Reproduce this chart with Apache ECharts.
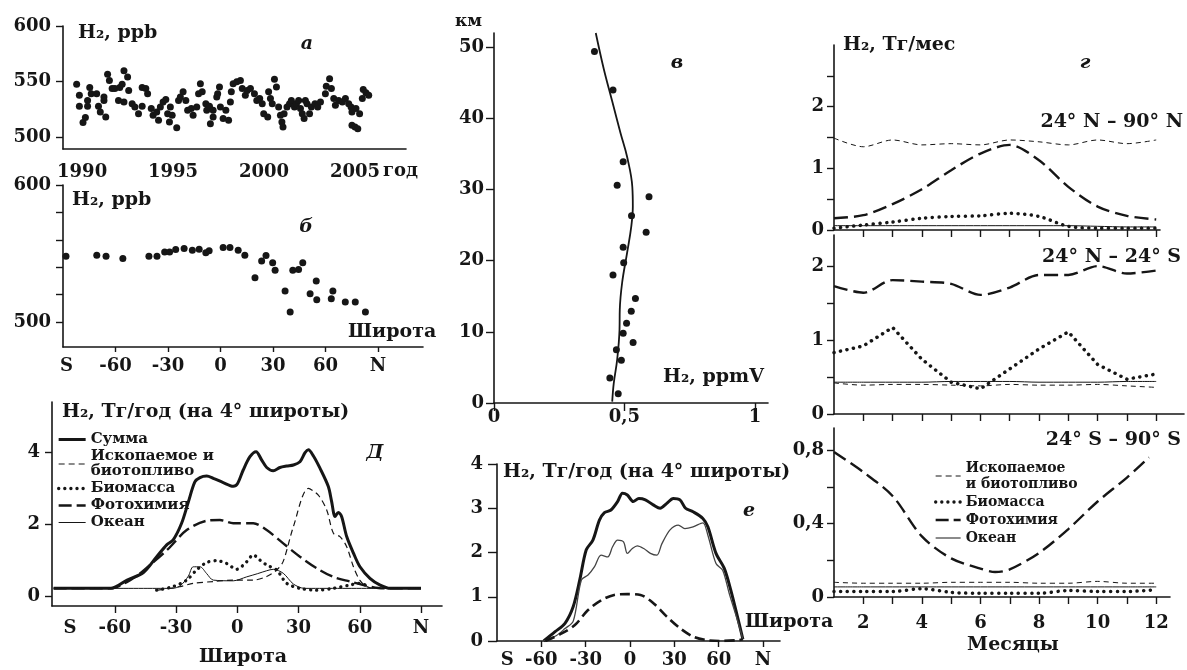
<!DOCTYPE html>
<html>
<head>
<meta charset="utf-8">
<script src="https://cdn.jsdelivr.net/npm/echarts@6.0.0/dist/echarts.min.js"></script>
<style>
  html, body { margin: 0; background: #fff; }
  #chart { width: 1187px; height: 670px; }
</style>
</head>
<body>
<div id="chart"></div>
<script>
// а: H2 (ppb) по годам
const yearsA = [1989.7,1989.85,1989.85,1990.05,1990.18,1990.3,1990.42,1990.5,1990.3,1990.8,
  1990.9,1991.0,1991.2,1991.2,1991.3,1991.4,1991.5,1991.65,1991.8,1992.0,
  1992.07,1992.2,1992.3,1992.5,1992.56,1992.3,1992.75,1992.9,1993.1,1993.3,
  1993.5,1993.6,1993.3,1993.8,1993.9,1994.1,1994.2,1994.3,1994.45,1994.6,
  1994.7,1994.85,1994.8,1994.95,1995.2,1995.3,1995.4,1995.55,1995.7,1995.8,
  1996.0,1996.1,1996.3,1996.4,1996.5,1996.6,1996.8,1996.85,1997.0,1997.05,
  1997.2,1997.2,1997.4,1997.45,1997.55,1997.6,1997.75,1997.9,1998.05,1998.15,
  1998.2,1998.3,1998.5,1998.7,1998.8,1998.97,1999.07,1999.25,1999.47,1999.6,
  1999.76,1999.9,1999.98,2000.2,2000.25,2000.35,2000.45,2000.57,2000.68,2000.8,
  2000.9,2000.98,2001.04,2001.1,2001.26,2001.4,2001.5,2001.67,2001.78,2001.9,
  2002.0,2002.1,2002.2,2002.27,2002.36,2002.5,2002.6,2002.8,2002.95,2003.1,
  2003.37,2003.42,2003.6,2003.7,2003.83,2003.92,2004.1,2004.3,2004.47,2004.65,
  2004.78,2004.83,2004.83,2005.0,2005.15,2005.05,2005.25,2005.4,2005.45,2005.6,
  2005.75];
const h2A = [547.6,537.6,527.7,513,517.5,533,544.6,539,527.7,539,
  527.7,522.6,536,533,518,556.6,551,543.7,543.7,533,
  544.6,547.6,559.6,554,542,531.6,530,527,521,544.6,
  543.7,539,527.7,525.6,519.6,522.6,515,527,531.6,533.7,
  521,527,513.5,519.6,508.4,533,536,540.7,533,524,
  525.6,519.6,527,539,548,540.7,530,524,527.7,512,
  524,518,536,539,545,527,516.6,524,515,531.6,
  540.7,548,549.7,551,543.7,537.6,542,543.7,539,533,
  534.6,530,521,518,540.7,534.6,530,552,545,527,
  519.6,513.5,509,521,527,530,533,527,530,533,
  525.6,521,516.6,533,530,521,527,530,527,531.6,
  539,545.8,552.4,543.7,534.6,528.6,533,531.6,534.6,530,
  527,522.6,510.5,509,507.5,525.6,521,534.6,542.8,539.8,
  537.6];

// б: H2 (ppb) по широте
const latB = [-88.3,-70.7,-65.4,-55.8,-40.9,-36.3,-31.9,-29.1,-25.6,-20.8,-16.1,-12.2,-8.4,-6.5,
  1.5,5.4,10.1,13.9,19.7,23.5,26,29.8,31.2,36.9,39.8,41.3,44.6,47,51.2,54.7,55,63.3,64.2,71.3,77,82.8];
const h2B = [548,548.8,548,546.3,548,548,551.2,551.2,552.9,553.7,552.4,553.2,550.5,552,
  554.4,554.4,552.4,548.8,532.4,544.6,548.5,543.2,537.8,522.7,507.3,537.8,538.3,543.2,520.7,530,516.3,517,522.7,514.6,514.6,507.3];

// в: вертикальный профиль, ppmV и км
const ppmvPts = [0.385,0.456,0.495,0.472,0.594,0.527,0.583,0.495,0.497,0.456,0.542,0.526,0.508,0.495,0.533,0.469,0.488,0.444,0.476];
const kmPts = [49.4,44.0,33.9,30.6,29.0,26.3,24.0,21.9,19.7,18.0,14.7,12.9,11.2,9.8,8.5,7.5,6.0,3.5,1.3];
const ppmvFit = [0.39,0.42,0.453,0.485,0.51,0.53,0.532,0.526,0.51,0.491,0.482,0.481,0.472,0.459,0.453];
const kmFit = [52,47.05,42.4,37.9,34.6,30.4,27.6,24.8,21.1,16.9,13.1,10.3,6.1,2.8,0.2];

// д: источники, Тг/год на 4° широты
const latSum = [-90,-62,-54,-46,-39.5,-34.6,-31.4,-27.3,-24,-20.8,-18.3,-15,-11.8,-6.9,-2,0,2.9,6.2,9.2,11.9,
  14.4,17.6,20.9,24.2,27.5,30.7,33.2,34.8,37.3,40.5,44.6,46.2,47.9,49.5,51.1,53.6,56.9,60.1,65,70,75,90];
const sumD = [0.21,0.21,0.44,0.65,1.09,1.42,1.56,2.02,2.61,3.17,3.29,3.33,3.27,3.15,3.05,3.11,3.5,3.87,4.01,3.78,
  3.57,3.48,3.57,3.61,3.64,3.73,3.98,4.06,3.89,3.55,3.04,2.63,2.21,2.32,2.21,1.65,1.19,0.81,0.49,0.3,0.21,0.21];
const latFos = [-39,-28,-21.6,-11.8,-2,7.8,14.4,19.3,22.5,27.5,34.8,39.7,43.8,47.1,50.3,53.6,56.9,60,63.4,68,90];
const fosD = [0.16,0.26,0.35,0.4,0.44,0.44,0.54,0.72,0.96,1.93,2.99,2.8,2.39,1.74,1.65,1.37,0.81,0.44,0.26,0.21,0.21];
const latBio = [-39.5,-31.4,-24.8,-20,-15,-10,-5.2,-0.3,4.6,7.8,11,14.4,19.3,24.2,30.7,38.9,47,55,60,63];
const bioD = [0.16,0.26,0.44,0.72,0.93,0.98,0.9,0.74,0.95,1.14,1.0,0.86,0.72,0.35,0.21,0.16,0.21,0.3,0.35,0.3];
const latPho = [-90,-62.4,-51,-42.8,-34,-24.8,-15,-8.5,-2,7.8,14.4,22.5,30.7,38.9,47,55.2,63.4,71.6,90];
const phoD = [0.21,0.21,0.49,0.86,1.3,1.83,2.09,2.11,2.02,2.02,1.83,1.46,1.09,0.77,0.53,0.4,0.28,0.21,0.21];
const latOce = [-90,-32,-28,-24,-21.6,-18.3,-15,-11.8,-2,4.6,10,14.4,17.6,22.5,27.5,33,90];
const oceD = [0.21,0.21,0.28,0.55,0.81,0.81,0.62,0.44,0.42,0.53,0.62,0.7,0.74,0.63,0.33,0.21,0.21];

// е: Тг/год на 4° широты
const latE1 = [-58.4,-50.7,-44,-38.4,-34,-29.6,-25.1,-20.7,-17.3,-12.9,-8.4,-5.1,-1.8,2.2,6,10.4,16,20.4,24.9,29.3,
  33.8,37.6,42.7,49.3,52.7,58.2,63.8,68.2,72.7,76.4];
const thickE = [0,0.21,0.4,0.78,1.38,2.06,2.28,2.73,2.9,2.96,3.15,3.34,3.3,3.15,3.22,3.19,3.07,3.0,3.11,3.22,
  3.19,3.0,2.92,2.77,2.58,1.98,1.64,1.15,0.55,0.04];
const latE2 = [-58.4,-50,-44,-38.4,-32.9,-28.4,-24,-19.6,-15,-11.8,-8.4,-4.4,-1.8,1.6,4.9,9.3,13.8,18.2,21.6,27.1,
  32.7,37.1,42.7,49.3,52.7,58.2,62.7,67.1,72.7,76.4];
const thinE = [0,0.12,0.28,0.45,1.38,1.49,1.68,1.94,1.9,2.13,2.28,2.24,1.98,2.09,2.15,2.09,1.98,1.94,2.2,2.51,
  2.62,2.54,2.58,2.67,2.39,1.75,1.6,1.08,0.47,0.04];
const latE3 = [-57.3,-46.2,-37.3,-28.4,-19.6,-10.7,-1.8,7.1,16,24.9,33.8,42.7,51.6,60.4,73.8,76.4];
const dashE = [0,0.17,0.36,0.7,0.92,1.04,1.06,1.04,0.85,0.55,0.29,0.1,0.02,0,0.02,0.04];

// г: Тг/мес по месяцам
const months = [1,2,3,4,5,6,7,8,9,10,11,12];
const fosN = [1.49,1.35,1.46,1.38,1.40,1.38,1.46,1.43,1.38,1.46,1.40,1.46];
const bioN = [0.03,0.08,0.13,0.19,0.22,0.23,0.27,0.22,0.06,0.03,0.03,0.03];
const phoN = [0.19,0.24,0.42,0.66,0.97,1.24,1.38,1.13,0.70,0.38,0.23,0.17];
const oceN = [0.07,0.07,0.07,0.07,0.07,0.07,0.07,0.07,0.07,0.06,0.05,0.05];
const fosT = [0.42,0.39,0.40,0.40,0.39,0.38,0.40,0.39,0.39,0.40,0.38,0.36];
const bioT = [0.83,0.92,1.17,0.74,0.43,0.34,0.61,0.88,1.11,0.67,0.47,0.54];
const phoT = [1.73,1.64,1.81,1.79,1.76,1.61,1.71,1.88,1.88,2.0,1.9,1.94];
const oceT = [0.43,0.43,0.43,0.43,0.44,0.44,0.44,0.43,0.43,0.43,0.44,0.44];
const fosS = [0.08,0.075,0.075,0.075,0.08,0.08,0.08,0.075,0.075,0.085,0.075,0.075];
const bioS = [0.03,0.03,0.03,0.045,0.025,0.02,0.02,0.02,0.035,0.03,0.03,0.04];
const monthsPhoS = [1,2,3,4,5,6,6.5,7,8,9,10,11,11.75];
const phoS = [0.79,0.68,0.55,0.33,0.21,0.155,0.136,0.15,0.24,0.37,0.52,0.65,0.76];
const oceS = [0.055,0.055,0.055,0.055,0.055,0.055,0.055,0.055,0.055,0.055,0.055,0.055];

const FONT = '"DejaVu Serif", "Liberation Serif", serif';
const INK = '#161616';
const FOSSIL = 'Ископаемое и биотопливо';

function pairs(xs, ys) { return xs.map((x, i) => [x, ys[i]]); }
function fmtNum(v) { return String(v).replace('.', ','); }
function fmtLat(v) { return v < -75 ? 'S' : v >= 90 ? 'N' : String(v); }

function axis(grid, min, max, o) {
  o = o || {};
  return {
    type: 'value', gridIndex: grid, min: min, max: max,
    axisLine: { show: true, onZero: false, lineStyle: { color: INK, width: 1.6 } },
    axisTick: { show: !!o.ticks, customValues: o.ticks, length: o.tickLen || 7, lineStyle: { color: INK, width: 1.4 } },
    axisLabel: { show: !!o.labels, customValues: o.labels, margin: o.margin || 8, formatter: o.fmt || fmtNum,
      color: INK, fontFamily: FONT, fontWeight: 'bold', fontSize: 18 },
    splitLine: { show: false }
  };
}

function curve(name, gi, xs, ys, ls, smooth) {
  return {
    name: name, type: 'line', xAxisIndex: gi, yAxisIndex: gi, data: pairs(xs, ys),
    symbol: 'none', smooth: smooth === undefined ? 0.3 : smooth, silent: true,
    lineStyle: Object.assign({ color: INK }, ls)
  };
}

function dots(name, gi, xs, ys) {
  return {
    name: name, type: 'scatter', xAxisIndex: gi, yAxisIndex: gi, data: pairs(xs, ys),
    symbolSize: 7, silent: true, itemStyle: { color: INK, opacity: 1 }
  };
}

function note(text, x, y, o) {
  o = o || {};
  return {
    type: 'text', x: x, y: y, silent: true,
    style: {
      text: text, fill: INK,
      font: (o.italic ? 'italic ' : '') + 'bold ' + (o.size || 19) + 'px ' + FONT,
      textAlign: o.align || 'left', textVerticalAlign: 'middle',
      align: o.align || 'left', verticalAlign: 'middle'
    }
  };
}

const SUM = { width: 3 };
const FOS = { width: 1.2, type: [6, 4] };
const BIO = { width: 3.3, type: [0.1, 6], cap: 'round' };
const PHO = { width: 2.4, type: [13, 5] };
const OCE = { width: 1 };

const chart = echarts.init(document.getElementById('chart'));

const option = {
  animation: false,
  backgroundColor: '#fff',
  textStyle: { fontFamily: FONT },
  grid: [
    { left: 63, top: 26, width: 343, height: 123, outerBoundsMode: 'none' },   // а
    { left: 63, top: 185, width: 360, height: 162, outerBoundsMode: 'none' },  // б
    { left: 52, top: 402, width: 390, height: 204, outerBoundsMode: 'none' },  // д
    { left: 494, top: 33, width: 274, height: 370, outerBoundsMode: 'none' },  // в
    { left: 497, top: 464, width: 283, height: 177, outerBoundsMode: 'none' }, // е
    { left: 834, top: 45, width: 326, height: 185, outerBoundsMode: 'none' },  // г, 24N-90N
    { left: 834, top: 235, width: 350, height: 179, outerBoundsMode: 'none' }, // г, 24N-24S
    { left: 834, top: 428, width: 336, height: 169, outerBoundsMode: 'none' }  // г, 24S-90S
  ],
  xAxis: [
    axis(0, 1988.95, 2007.8, { labels: [1990, 1995, 2000, 2005], fmt: String, margin: 14 }),
    axis(1, -90, 115.7, { ticks: [-60, -30, 0, 30, 60, 90], tickLen: 5, labels: [-88, -60, -30, 0, 30, 60, 90], fmt: fmtLat, margin: 10 }),
    axis(2, -90.8, 100.3, { ticks: [-60, -30, 0, 30, 60, 90], labels: [-82, -60, -30, 0, 30, 60, 90], fmt: fmtLat, margin: 13 }),
    axis(3, 0, 1.05, { ticks: [0, 0.5, 1], tickLen: 8, labels: [0, 0.5, 1], margin: 5 }),
    axis(4, -90, 101.5, { ticks: [-60, -30, 0, 30, 60, 90], tickLen: 6, labels: [-83, -60, -30, 0, 30, 60, 90], fmt: fmtLat, margin: 10 }),
    axis(5, 1, 12.13, { ticks: [2, 3, 4, 5, 6, 7, 8, 9, 10, 11, 12] }),
    axis(6, 1, 12.95, { ticks: [2, 3, 4, 5, 6, 7, 8, 9, 10, 11, 12] }),
    axis(7, 1, 12.47, { ticks: [2, 3, 4, 5, 6, 7, 8, 9, 10, 11, 12], labels: [2, 4, 6, 8, 10, 12], margin: 17 })
  ],
  yAxis: [
    axis(0, 489.2, 600, { ticks: [500, 550, 600], labels: [500, 550, 600], margin: 12 }),
    axis(1, 481.8, 600, { ticks: [500, 520, 540, 560, 580, 600], labels: [500, 600], margin: 12 }),
    axis(2, -0.28, 5.39, { ticks: [0, 2, 4], labels: [0, 2, 4], margin: 12 }),
    axis(3, 0, 52, { ticks: [0, 10, 20, 30, 40, 50], tickLen: 8, labels: [0, 10, 20, 30, 40, 50], margin: 10 }),
    axis(4, 0, 4, { ticks: [0, 1, 2, 3, 4], tickLen: 9, labels: [0, 1, 2, 3, 4], margin: 14 }),
    axis(5, 0, 3, { ticks: [0, 0.5, 1, 1.5, 2, 2.5], labels: [0, 1, 2], margin: 10 }),
    axis(6, 0, 2.42, { ticks: [0, 0.5, 1, 1.5, 2], labels: [0, 1, 2], margin: 10 }),
    axis(7, 0, 0.92, { ticks: [0, 0.2, 0.4, 0.6, 0.8], labels: [0, 0.4, 0.8], margin: 10 })
  ],
  legend: [
    {
      orient: 'vertical', left: 57, top: 432, padding: 0, itemGap: 2,
      itemWidth: 27, itemHeight: 12, selectedMode: false,
      data: ['Сумма', FOSSIL, 'Биомасса', 'Фотохимия', 'Океан'],
      formatter: n => n === FOSSIL ? 'Ископаемое и\nбиотопливо' : n,
      itemStyle: { opacity: 0 }, lineStyle: { width: 'inherit' },
      textStyle: { fontFamily: FONT, fontWeight: 'bold', fontSize: 15, lineHeight: 15, color: INK }
    },
    {
      orient: 'vertical', left: 934, top: 460, padding: 0, itemGap: 2,
      itemWidth: 25, itemHeight: 12, selectedMode: false,
      data: [FOSSIL, 'Биомасса', 'Фотохимия', 'Океан'],
      formatter: n => n === FOSSIL ? 'Ископаемое\nи биотопливо' : n,
      itemStyle: { opacity: 0 }, lineStyle: { width: 'inherit' },
      textStyle: { fontFamily: FONT, fontWeight: 'bold', fontSize: 14, lineHeight: 16, color: INK }
    }
  ],
  series: [
    dots('а', 0, yearsA, h2A),
    dots('б', 1, latB, h2B),
    // д
    curve('Сумма', 2, latSum, sumD, SUM),
    curve(FOSSIL, 2, latFos, fosD, FOS),
    curve('Биомасса', 2, latBio, bioD, BIO),
    curve('Фотохимия', 2, latPho, phoD, PHO),
    curve('Океан', 2, latOce, oceD, OCE),
    // в
    dots('в, измерения', 3, ppmvPts, kmPts),
    curve('в, профиль', 3, ppmvFit, kmFit, { width: 1.8 }, 0.4),
    // е
    curve('е, жирная', 4, latE1, thickE, { width: 3 }),
    curve('е, тонкая', 4, latE2, thinE, { width: 1.3, color: '#444' }),
    curve('е, штрих', 4, latE3, dashE, { width: 2.6, type: [10, 5] }),
    // г, 24N-90N
    curve(FOSSIL, 5, months, fosN, { width: 1, type: [5, 4] }),
    curve('Биомасса', 5, months, bioN, { width: 3.5, type: [0.1, 6.5], cap: 'round' }),
    curve('Фотохимия', 5, months, phoN, { width: 2.4, type: [14, 6] }),
    curve('Океан', 5, months, oceN, OCE),
    // г, 24N-24S
    curve(FOSSIL, 6, months, fosT, { width: 1, type: [5, 4] }),
    curve('Биомасса', 6, months, bioT, { width: 3.5, type: [0.1, 6.5], cap: 'round' }, false),
    curve('Фотохимия', 6, months, phoT, { width: 2.4, type: [14, 6] }),
    curve('Океан', 6, months, oceT, OCE),
    // г, 24S-90S
    curve(FOSSIL, 7, months, fosS, { width: 1, type: [5, 4] }),
    curve('Биомасса', 7, months, bioS, { width: 3.5, type: [0.1, 6.5], cap: 'round' }),
    curve('Фотохимия', 7, monthsPhoS, phoS, { width: 2.4, type: [14, 6] }),
    curve('Океан', 7, months, oceS, OCE)
  ],
  graphic: {
    elements: [
      note('H₂, ppb', 78, 33),
      note('а', 307, 44, { italic: true, align: 'center' }),
      note('год', 383, 171, { size: 18 }),
      note('H₂, ppb', 72, 200),
      note('б', 306, 227, { italic: true, align: 'center' }),
      note('Широта', 348, 332),
      note('H₂, Тг/год (на 4° широты)', 62, 412),
      note('Д', 375, 453, { italic: true, align: 'center' }),
      note('Широта', 243, 657, { align: 'center' }),
      note('км', 455, 22, { size: 17 }),
      note('в', 677, 63, { italic: true, align: 'center' }),
      note('H₂, ppmV', 663, 377),
      note('H₂, Тг/год (на 4° широты)', 503, 472),
      note('е', 749, 511, { italic: true, align: 'center' }),
      note('Широта', 745, 622),
      note('H₂, Тг/мес', 843, 45),
      note('г', 1085, 63, { italic: true, align: 'center' }),
      note('24° N – 90° N', 1183, 122, { align: 'right' }),
      note('24° N – 24° S', 1181, 257, { align: 'right' }),
      note('24° S – 90° S', 1181, 440, { align: 'right' }),
      note('Месяцы', 1013, 645, { align: 'center' })
    ]
  }
};

chart.setOption(option);
window.addEventListener('resize', () => chart.resize());
</script>
</body>
</html>
